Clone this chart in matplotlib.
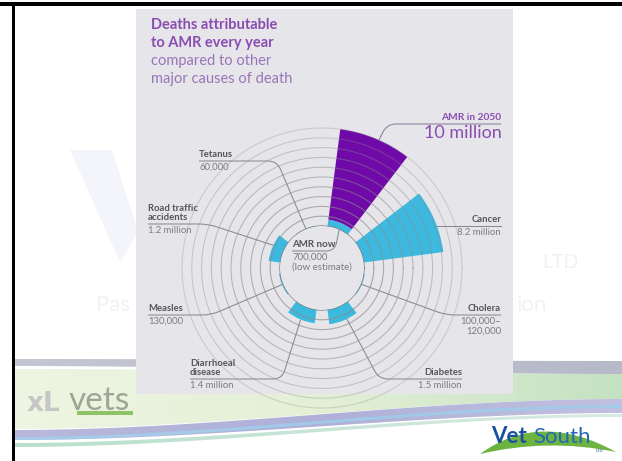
import numpy as np
import matplotlib.pyplot as plt
from matplotlib.path import Path
from matplotlib.patches import PathPatch, Rectangle, Polygon
from matplotlib.colors import LinearSegmentedColormap

# deaths per year (millions)
causes = ["AMR in 2050", "Cancer", "Cholera", "Diabetes",
          "Diarrhoeal\ndisease", "Measles", "Road traffic\naccidents", "Tetanus"]
deaths = [10.0, 8.2, 0.11, 1.5, 1.4, 0.13, 1.2, 0.06]
death_labels = ["10 million", "8.2 million", "100,000\u2013\n120,000", "1.5 million",
                "1.4 million", "130,000", "1.2 million", "60,000"]
amr_now = 0.7
amr_now_labels = ["AMR now", "700,000\n(low estimate)"]
title_lines = ["Deaths attributable", "to AMR every year",
               "compared to other", "major causes of death"]

W, H = 622, 461
PURPLE = "#6f0aa8"
CYAN = "#3db9df"
PANEL = "#e6e6ea"
LEAD = "#8a8a8a"
DARK = "#555555"
GREY = "#7c7c7c"
FONT = "Lato"

fig = plt.figure(figsize=(W / 100, H / 100), dpi=100)
fig.patch.set_facecolor("white")

# background layer in pixel coordinates
bg = fig.add_axes([0, 0, 1, 1], zorder=0)
bg.set_xlim(0, W)
bg.set_ylim(H, 0)
bg.axis("off")


def smooth(t):
    return t * t * (3 - 2 * t)


def band(ax, left, right, colors, alpha=1.0, x0=15, x1=W):
    # curved ribbon, left/right = (top, bottom), coloured left to right
    xs = np.linspace(x0, x1, 120)
    t = smooth((xs - x0) / (x1 - x0))
    top = left[0] + (right[0] - left[0]) * t
    bot = left[1] + (right[1] - left[1]) * t
    verts = np.vstack([np.column_stack([xs, top]), np.column_stack([xs[::-1], bot[::-1]])])
    poly = Polygon(verts, closed=True, facecolor="none", edgecolor="none")
    ax.add_patch(poly)
    cmap = LinearSegmentedColormap.from_list("b", colors)
    img = ax.imshow(np.linspace(0, 1, 256)[None, :], cmap=cmap, aspect="auto",
                    extent=[x0, x1, max(top.max(), bot.max()), min(top.min(), bot.min())],
                    alpha=alpha, zorder=1, interpolation="bilinear")
    img.set_clip_path(poly)


# template swooshes along the bottom of the slide
band(bg, (369, 429), (374, 399), ["#eef5e2", "#e4f0d6", "#c4e2c2"])
band(bg, (359, 366), (361, 374), ["#c4c6d2", "#b6b9c8"])
band(bg, (430, 440), (399, 413), ["#b8b8dc", "#aeb0d8", "#c2c0e0"])
band(bg, (437, 440), (405, 408), ["#a4d2ee", "#9ccdec"], alpha=0.8)
band(bg, (443, 447), (414, 417), ["#a8d8c0", "#cfe6dc"], alpha=0.8)

# faint watermark of the slide template
bg.add_patch(Polygon([[70, 150], [112, 150], [138, 232], [120, 262]],
                     closed=True, color="#f3f5fa", lw=0, zorder=0.5))
bg.text(113, 305, "Pas", fontsize=16, color="#f1f2f5", family=FONT,
        ha="center", va="center")
bg.text(532, 305, "ion", fontsize=16, color="#f1f2f5", family=FONT,
        ha="center", va="center")
bg.text(560, 262, "LTD", fontsize=14, color="#eef0f4", family=FONT,
        ha="center", va="center")

# slide frame
bg.add_patch(Rectangle((0, 2), W, 4, color="black", lw=0, zorder=3))
bg.add_patch(Rectangle((12, 2), 3, H, color="black", lw=0, zorder=3))

# infographic panel
bg.add_patch(Rectangle((136, 9), 377, 385, color=PANEL, lw=0, zorder=2))

# logos
bg.text(27, 411, "xL", fontsize=19, fontweight="bold", color="#c6c6c6",
        family="DejaVu Sans", va="baseline", zorder=3)
bg.text(69, 410, "vets", fontsize=24, color="#9ea596", family=FONT,
        va="baseline", zorder=3)
bg.add_patch(Rectangle((77, 411), 56, 4, color="#8fc466", lw=0, zorder=3))
arch = Path([(480, 454), (540, 410), (616, 452), (548, 438), (480, 454)],
            [Path.MOVETO, Path.CURVE3, Path.CURVE3, Path.CURVE3, Path.CURVE3])
bg.add_patch(PathPatch(arch, color="#6db33f", lw=0, zorder=3))
bg.text(491, 443, "Vet", fontsize=16, fontweight="bold", color="#1b4f9e",
        family=FONT, va="baseline", zorder=4)
bg.text(533, 443, "South", fontsize=16, color="#2368b6", family=FONT,
        va="baseline", zorder=4)
bg.text(596, 452, "LTD", fontsize=3, color="#1b4f9e", family=FONT,
        va="baseline", zorder=4)

# polar chart: centre (322, 268) px, inner radius 42 px, 9.8 px per million
cx, cy, rp = 322, 268, 150
ax = fig.add_axes([(cx - rp) / W, (H - cy - rp) / H, 2 * rp / W, 2 * rp / H],
                  projection="polar", zorder=1)
ax.set_rorigin(-42 / 9.8)
ax.set_ylim(0, rp / 9.8 - 42 / 9.8)
ax.axis("off")
ax.patch.set_alpha(0)

theta = np.radians([67.5 - 45 * i for i in range(len(causes))])
width = np.radians(30)

# AMR today as the base of the 2050 bar
ax.bar(theta[0], amr_now, width=width, bottom=0, color=CYAN, lw=0, zorder=2)
ax.bar(theta[0], deaths[0] - amr_now, width=width, bottom=amr_now,
       color=PURPLE, lw=0, zorder=2)
ax.bar(theta[1:], deaths[1:], width=width, bottom=0, color=CYAN, lw=0, zorder=2)

circle = np.linspace(0, 2 * np.pi, 361)
ax.plot(circle, np.zeros_like(circle), color="#7a7a7a", lw=0.9, zorder=3)
for k in range(1, 11):
    ax.plot(circle, np.full_like(circle, k), color="#8c8c8c",
            lw=0.8, alpha=0.75 - 0.045 * k, zorder=3)

# foreground layer for leaders and labels
fg = fig.add_axes([0, 0, 1, 1], zorder=2)
fg.set_xlim(0, W)
fg.set_ylim(H, 0)
fg.axis("off")
fg.patch.set_alpha(0)


def to_px(th_deg, r):
    disp = ax.transData.transform((np.radians(th_deg), r))
    return fg.transData.inverted().transform(disp)


def leader(start, corner, end, color=LEAD, rad=9):
    start, corner, end = map(np.asarray, (start, corner, end))
    d1, d2 = corner - start, end - corner
    rad = min(rad, np.hypot(*d1) * 0.9, np.hypot(*d2) * 0.9)
    p1 = corner - d1 / np.hypot(*d1) * rad
    p2 = corner + d2 / np.hypot(*d2) * rad
    path = Path([start, p1, corner, p2, end],
                [Path.MOVETO, Path.LINETO, Path.CURVE3, Path.CURVE3, Path.LINETO])
    fg.add_patch(PathPatch(path, fill=False, color=color, lw=0.75))


def label(x, y, title, value, ha="left", tcolor=DARK, vcolor=GREY, size=6.8):
    fg.text(x, y - 2, title, ha=ha, va="bottom", fontsize=size, fontweight="bold",
            color=tcolor, family=FONT, linespacing=1.0)
    fg.text(x, y + 2, value, ha=ha, va="top", fontsize=size, color=vcolor,
            family=FONT, linespacing=1.05)


# (anchor angle, anchor r, corner x, line y, text x, ha)
layout = {
    0: (66, deaths[0], 387, 124, 501, "right"),
    2: (-22.5, 0, 446, 315, 501, "right"),
    3: (-64, deaths[3], 379, 379, 462, "right"),
    4: (-112.5, deaths[4], 282, 379, 190, "left"),
    5: (-157.5, 0, 211, 315, 148, "left"),
    6: (155, deaths[6], 208, 224, 148, "left"),
    7: (112.5, 0, 277, 161, 199, "left"),
}
for i, (ang, r, kx, ly, tx, ha) in layout.items():
    end = to_px(ang, r)
    col = "#8d7a9b" if i == 0 else LEAD
    leader((tx, ly), (kx, ly), end, color=col)
    if i == 0:
        fg.text(tx, ly - 2, causes[i], ha="right", va="bottom", fontsize=7.3,
                fontweight="bold", color="#8a4cb0", family=FONT)
        fg.text(tx + 1, ly + 1, death_labels[i], ha="right", va="top", fontsize=13,
                color="#8a4cb0", family=FONT)
    else:
        label(tx, ly, causes[i], death_labels[i], ha=ha)

# cancer leader runs straight out from the bar
cx1, cy1 = to_px(20, deaths[1])
fg.plot([cx1, 501], [cy1, cy1], color=LEAD, lw=0.75)
label(501, cy1, causes[1], death_labels[1], ha="right")

# AMR today
now_end = to_px(66, 0)
leader((292, 251), (335, 251), now_end)
label(292, 251, amr_now_labels[0], amr_now_labels[1], ha="left", size=7)

# heading
for j, line in enumerate(title_lines):
    bold = j < 2
    fg.text(151, 25 + 18 * j, line, fontsize=10.5, va="center",
            fontweight="bold" if bold else "normal",
            color="#8a4cb0" if bold else "#9a74b8", family=FONT)

fig.savefig("out.png")
